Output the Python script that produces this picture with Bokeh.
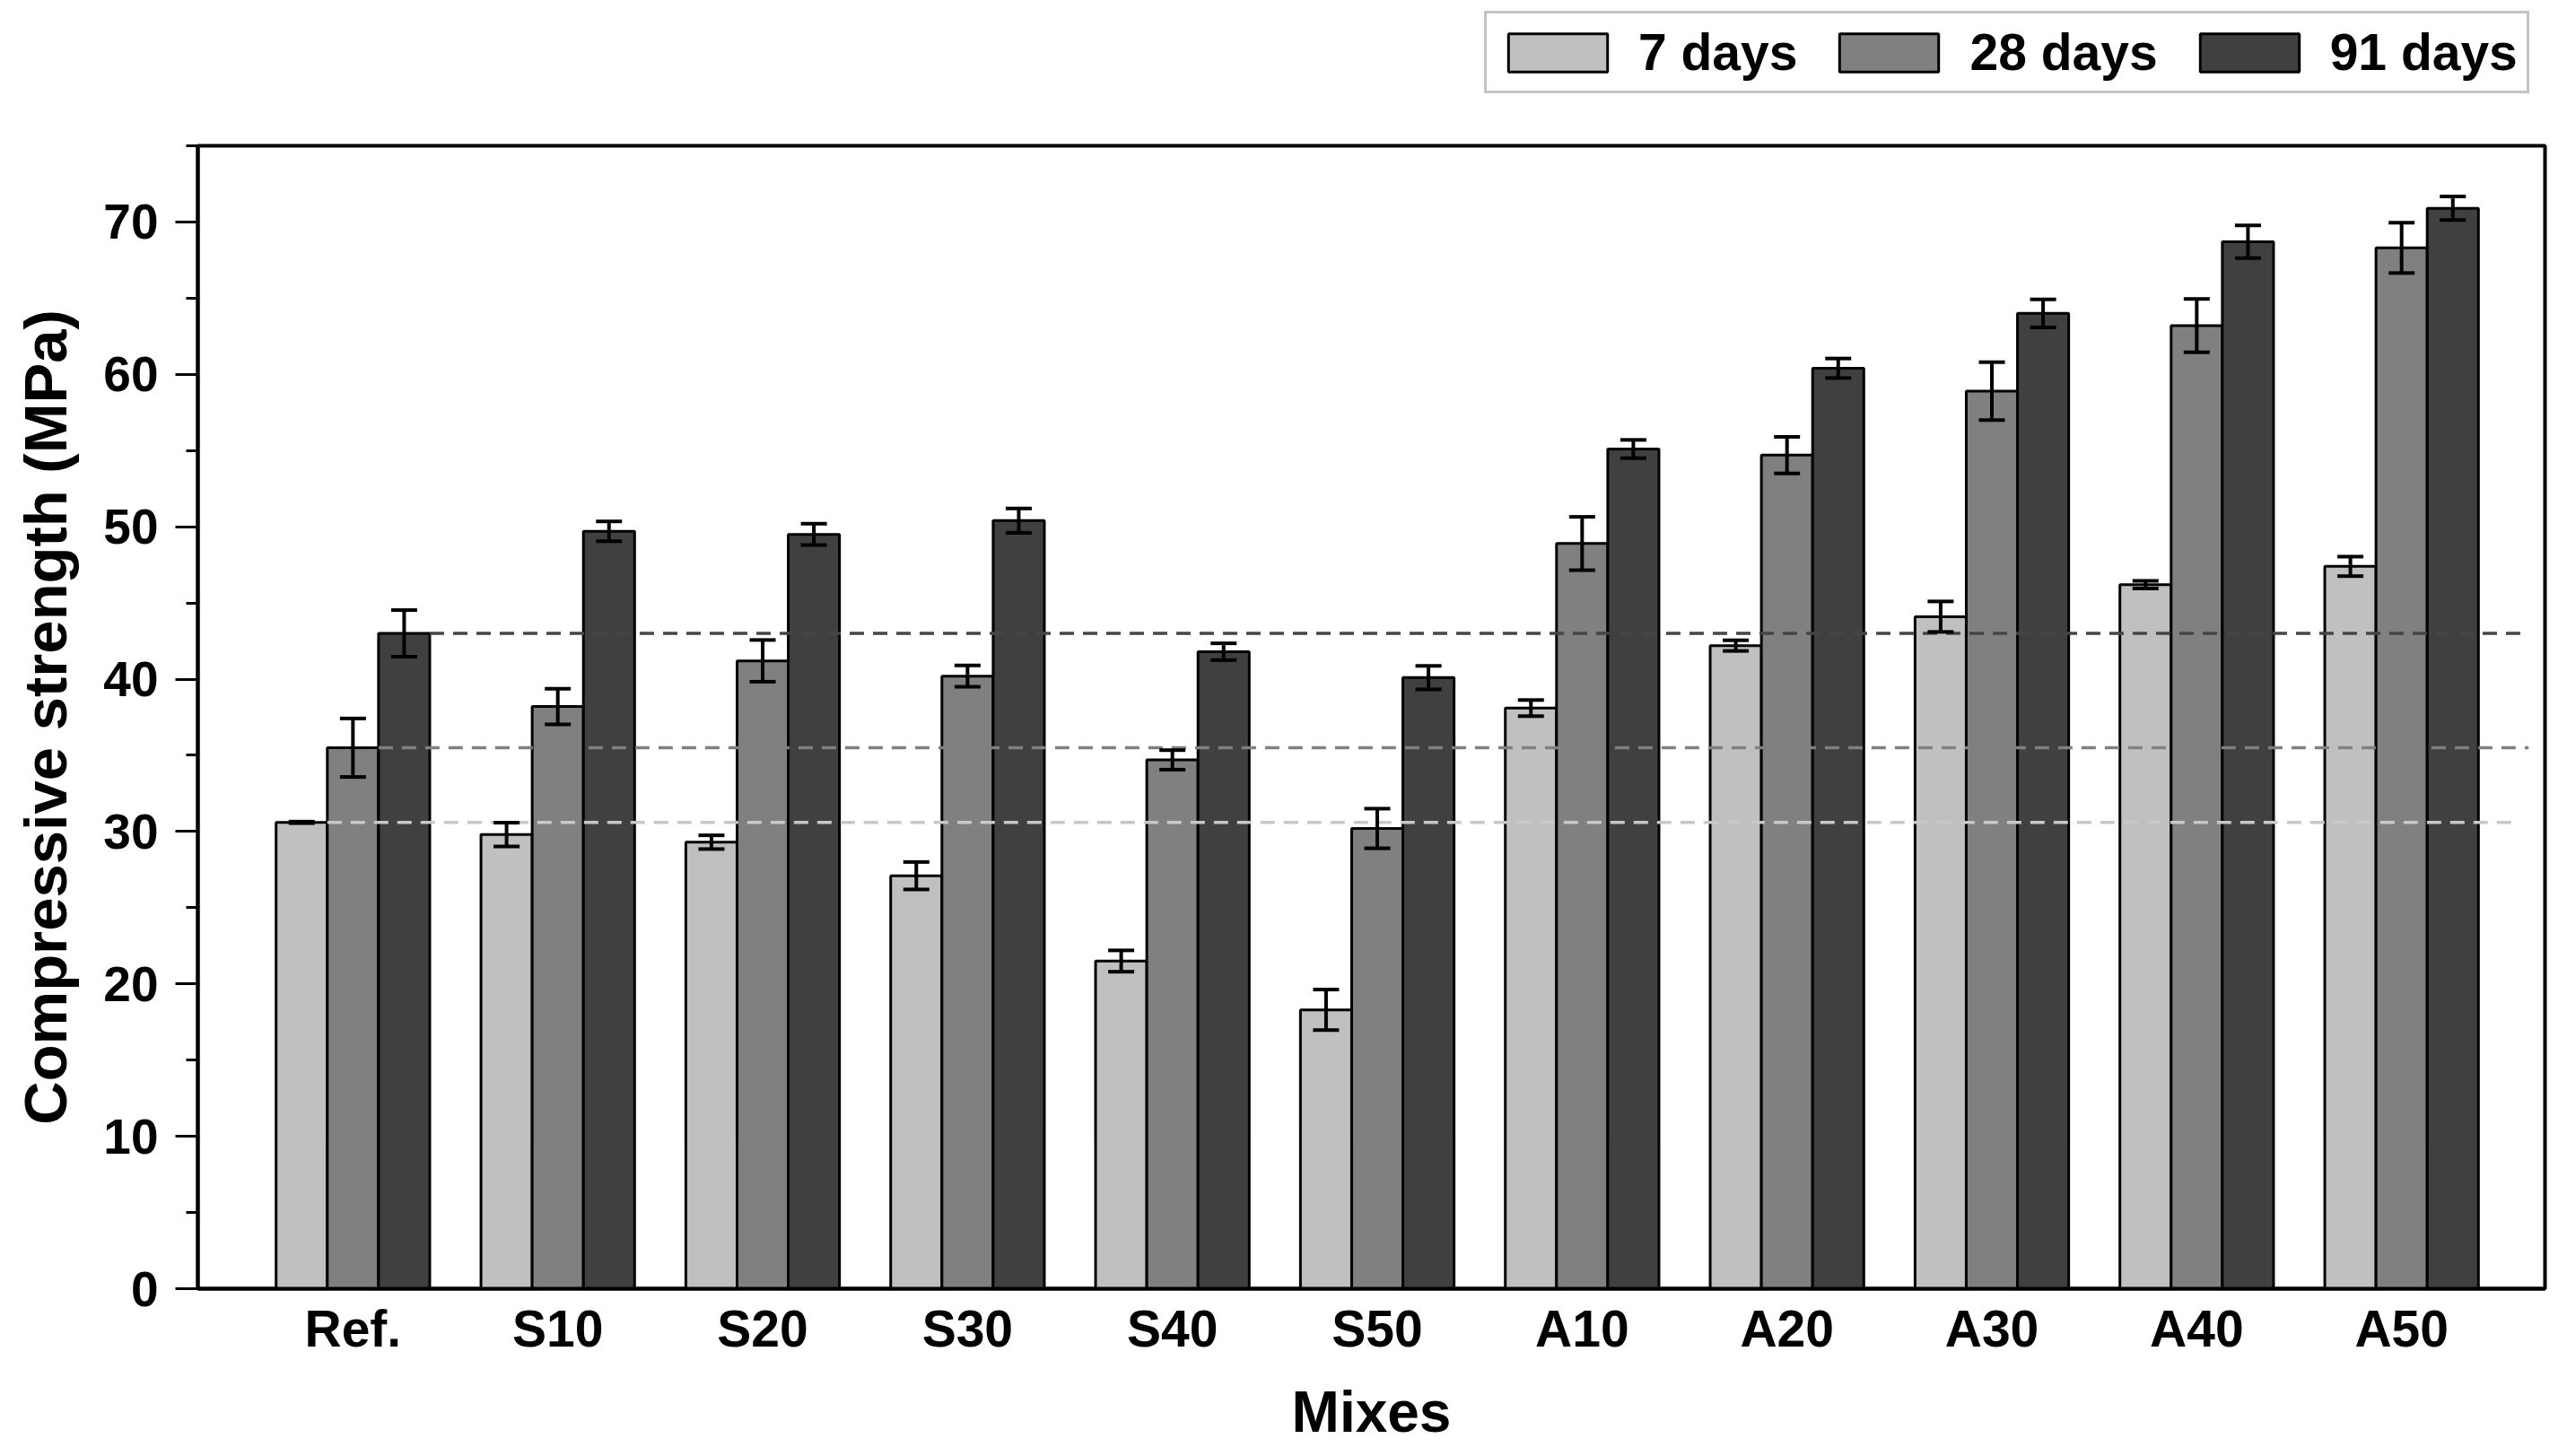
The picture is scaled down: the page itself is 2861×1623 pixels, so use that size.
from bokeh.plotting import figure
from bokeh.models import (ColumnDataSource, Whisker, TeeHead, Legend, LegendItem,
                          SingleIntervalTicker, FixedTicker, Range1d)
from bokeh.layouts import column
from bokeh.embed import file_html
from bokeh.resources import INLINE

# ---- data ----
mixes = ["Ref.", "S10", "S20", "S30", "S40", "S50", "A10", "A20", "A30", "A40", "A50"]
series = ["7 days", "28 days", "91 days"]
days7 = [30.6, 29.8, 29.3, 27.1, 21.5, 18.3, 38.1, 42.2, 44.1, 46.2, 47.4]
days7_err = [0.05, 0.78, 0.45, 0.9, 0.7, 1.33, 0.53, 0.35, 1.0, 0.25, 0.64]
days28 = [35.5, 38.2, 41.2, 40.2, 34.7, 30.2, 48.9, 54.7, 58.9, 63.2, 68.3]
days28_err = [1.92, 1.17, 1.37, 0.7, 0.64, 1.3, 1.75, 1.2, 1.9, 1.75, 1.65]
days91 = [43.0, 49.7, 49.5, 50.4, 41.8, 40.1, 55.1, 60.4, 64.0, 68.7, 70.9]
days91_err = [1.53, 0.65, 0.7, 0.8, 0.55, 0.77, 0.6, 0.64, 0.92, 1.07, 0.77]
y_ticks_interval = 10

# ---- style ----
colors = ["#c0c0c0", "#808080", "#404040"]
dash_colors = ["#c8c8c8", "#808080", "#454545"]
bar_w = 0.25
offsets = [-0.25, 0.0, 0.25]
dash_end = [11.57, 11.62, 11.62]
FONT = "Liberation Sans"
W = 2845
LEG_H = 110

# ---- legend strip ----
pl = figure(width=W, height=LEG_H, x_range=Range1d(0, 1), y_range=Range1d(0, 1),
            x_axis_type=None, y_axis_type=None, output_backend="svg",
            toolbar_location=None, min_border=0)
pl.grid.visible = False
pl.outline_line_color = None
leg_renderers = []
for k in range(3):
    # legend swatch renderer; its tiny bar sits hidden behind the opaque legend box
    r = pl.vbar(x=[0.75], bottom=[0.4], top=[0.5], width=0.005, fill_color=colors[k],
                line_color="black", line_width=3)
    leg_renderers.append(r)
legend = Legend(items=[LegendItem(label=series[k], renderers=[leg_renderers[k]]) for k in range(3)],
                orientation="horizontal", location=(1434, 6),
                glyph_width=138, glyph_height=53, label_standoff=21, spacing=33,
                padding=10, margin=0,
                label_text_font=FONT, label_text_font_style="bold",
                label_text_font_size="57px", label_text_color="black",
                border_line_color="#888888", border_line_width=3,
                background_fill_color="white", background_fill_alpha=1.0)
pl.add_layout(legend, "center")

# ---- main chart ----
p = figure(width=W, height=1612 - LEG_H,
           x_range=Range1d(0.243, 11.70), y_range=Range1d(0, 75),
           output_backend="svg", toolbar_location=None,
           min_border_left=220, min_border_right=9,
           min_border_top=162 - LEG_H, min_border_bottom=174)
p.grid.visible = False
p.outline_line_color = "black"
p.outline_line_width = 4
p.background_fill_color = "white"
p.border_fill_color = "white"

xpos = list(range(1, len(mixes) + 1))
vals = [days7, days28, days91]
errs = [days7_err, days28_err, days91_err]

for k in range(3):
    xs = [x + offsets[k] for x in xpos]
    src = ColumnDataSource(dict(x=xs, top=vals[k]))
    p.vbar(x="x", top="top", width=bar_w, bottom=0, source=src,
           fill_color=colors[k], line_color="black", line_width=3)

# reference dashed lines (levels of Ref. mix)
for k in range(3):
    x0 = xpos[0] + offsets[k] + bar_w / 2
    p.segment(x0=[x0], y0=[vals[k][0]], x1=[dash_end[k]], y1=[vals[k][0]],
              line_color=dash_colors[k], line_width=3.5, line_dash="16 10")

# error bars
for k in range(3):
    xs = [x + offsets[k] for x in xpos]
    src = ColumnDataSource(dict(x=xs,
                                upper=[v + e for v, e in zip(vals[k], errs[k])],
                                lower=[v - e for v, e in zip(vals[k], errs[k])]))
    w = Whisker(base="x", upper="upper", lower="lower", source=src, level="overlay",
                line_color="black", line_width=4,
                upper_head=TeeHead(size=29, line_width=4, line_color="black"),
                lower_head=TeeHead(size=29, line_width=4, line_color="black"))
    p.add_layout(w)

# axes
xa = p.xaxis[0]
xa.ticker = FixedTicker(ticks=xpos, minor_ticks=[])
xa.major_label_overrides = {x: m for x, m in zip(xpos, mixes)}
xa.major_tick_out = 0
xa.major_tick_in = 0
xa.minor_tick_out = 0
xa.axis_line_width = 4
xa.axis_label = "Mixes"
xa.axis_label_text_font = FONT
xa.axis_label_text_font_style = "bold"
xa.axis_label_text_font_size = "64px"
xa.axis_label_text_color = "black"
xa.axis_label_standoff = 22
xa.major_label_text_font = FONT
xa.major_label_text_font_style = "bold"
xa.major_label_text_font_size = "57px"
xa.major_label_text_color = "black"
xa.major_label_standoff = 12

ya = p.yaxis[0]
ya.ticker = SingleIntervalTicker(interval=y_ticks_interval, num_minor_ticks=2)
ya.axis_line_width = 4
ya.major_tick_out = 25
ya.major_tick_in = 0
ya.minor_tick_out = 13
ya.minor_tick_in = 0
ya.major_tick_line_width = 3
ya.minor_tick_line_width = 3
ya.axis_label = "Compressive strength (MPa)"
ya.axis_label_text_font = FONT
ya.axis_label_text_font_style = "bold"
ya.axis_label_text_font_size = "67px"
ya.axis_label_text_color = "black"
ya.axis_label_standoff = 24
ya.major_label_text_font = FONT
ya.major_label_text_font_style = "bold"
ya.major_label_text_font_size = "55px"
ya.major_label_text_color = "black"
ya.major_label_standoff = 19

layout = column(pl, p, spacing=0)
open("out.html", "w").write(file_html(layout, INLINE))
